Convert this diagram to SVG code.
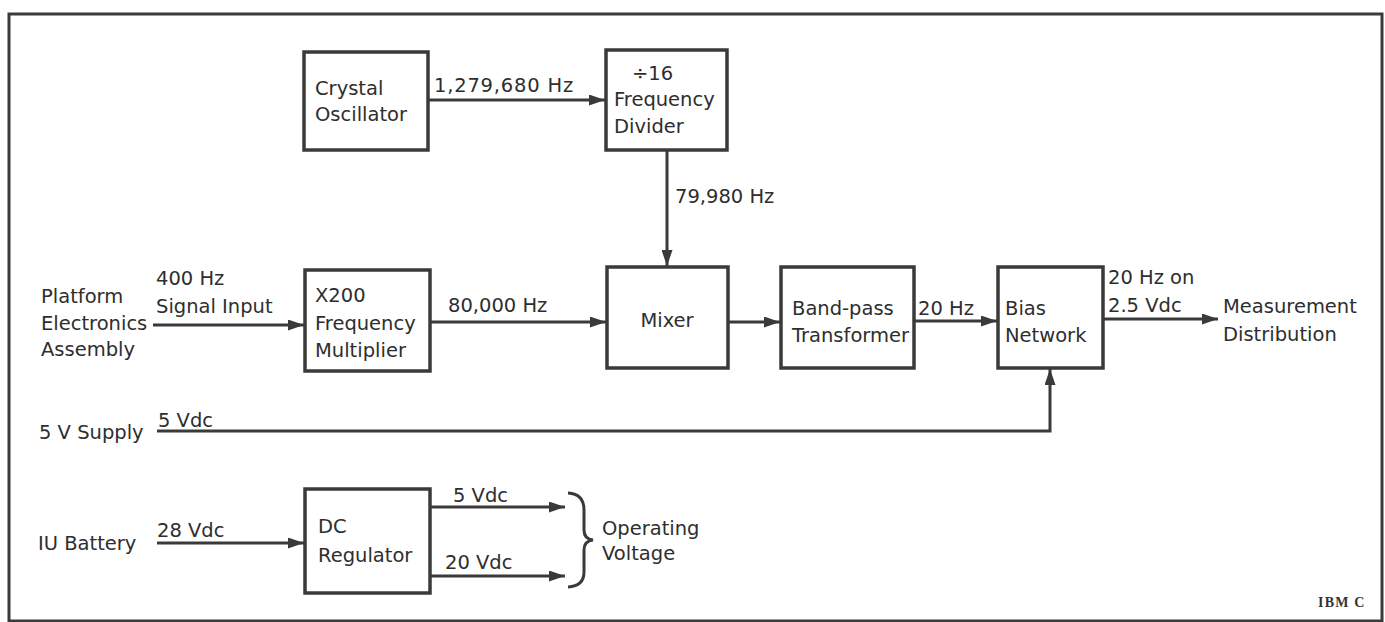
<svg xmlns="http://www.w3.org/2000/svg" width="1385" height="622" viewBox="0 0 1385 622">
<defs>
<marker id="ah" viewBox="0 0 16 11" refX="16" refY="5.5" markerWidth="16" markerHeight="11" markerUnits="userSpaceOnUse" orient="auto">
<path d="M0,0 L16,5.5 L0,11 Z" fill="#3a3a3a"/>
</marker>
<style>
.box{fill:#fff;stroke:#3a3a3a;stroke-width:3.5}
.t{font-family:"DejaVu Sans",sans-serif;font-size:19.5px;fill:#2e2e2e}
.w{fill:none;stroke:#3a3a3a;stroke-width:3}
.a{fill:none;stroke:#3a3a3a;stroke-width:3;marker-end:url(#ah)}
</style>
</defs>
<rect x="0" y="0" width="1385" height="622" fill="#fff"/>
<rect x="9" y="14" width="1373" height="607" fill="none" stroke="#3a3a3a" stroke-width="3"/>

<g id="connectors">
<path class="a" d="M428,100 H605"/>
<path class="a" d="M667,151 V266"/>
<path class="a" d="M153,325 H304"/>
<path class="a" d="M430,322 H606"/>
<path class="a" d="M728,322 H780"/>
<path class="a" d="M914,321 H997"/>
<path class="a" d="M1103,319 H1218"/>
<path class="a" d="M157,431 H1050 V369"/>
<path class="a" d="M157,543 H304"/>
<path class="a" d="M430,507 H565"/>
<path class="a" d="M430,576 H565"/>
<path class="w" d="M568,493 Q584,494 584,510 V530 Q584,539 593,540 Q584,541 584,550 V572 Q584,586 568,587" stroke-width="2.5"/>
</g>

<g id="crystal"><rect class="box" x="304" y="52" width="124" height="98"/>
<text class="t" x="315" y="95">Crystal</text><text class="t" x="315" y="121">Oscillator</text></g>
<g id="divider"><rect class="box" x="606" y="50" width="121" height="100"/>
<text class="t" x="632" y="80">÷16</text><text class="t" x="614" y="106">Frequency</text><text class="t" x="614" y="133">Divider</text></g>
<g id="multiplier"><rect class="box" x="305" y="270" width="125" height="101"/>
<text class="t" x="315" y="302">X200</text><text class="t" x="315" y="330">Frequency</text><text class="t" x="315" y="357">Multiplier</text></g>
<g id="mixer"><rect class="box" x="607" y="267" width="121" height="101"/>
<text class="t" x="667" y="327" text-anchor="middle">Mixer</text></g>
<g id="bandpass"><rect class="box" x="781" y="267" width="133" height="101"/>
<text class="t" x="792" y="315">Band-pass</text><text class="t" x="792" y="342">Transformer</text></g>
<g id="bias"><rect class="box" x="998" y="267" width="105" height="101"/>
<text class="t" x="1005" y="315">Bias</text><text class="t" x="1005" y="342">Network</text></g>
<g id="regulator"><rect class="box" x="305" y="489" width="125" height="104"/>
<text class="t" x="318" y="533">DC</text><text class="t" x="318" y="562">Regulator</text></g>

<g id="labels">
<text class="t" x="434" y="92" letter-spacing="0.8">1,279,680 Hz</text>
<text class="t" x="675" y="203">79,980 Hz</text>
<text class="t" x="156" y="285">400 Hz</text>
<text class="t" x="156" y="313">Signal Input</text>
<text class="t" x="41" y="303">Platform</text>
<text class="t" x="41" y="330">Electronics</text>
<text class="t" x="41" y="356">Assembly</text>
<text class="t" x="448" y="312">80,000 Hz</text>
<text class="t" x="918" y="315">20 Hz</text>
<text class="t" x="1108" y="284">20 Hz on</text>
<text class="t" x="1108" y="312">2.5 Vdc</text>
<text class="t" x="1223" y="313">Measurement</text>
<text class="t" x="1223" y="341">Distribution</text>
<text class="t" x="39" y="439">5 V Supply</text>
<text class="t" x="158" y="427">5 Vdc</text>
<text class="t" x="38" y="550">IU Battery</text>
<text class="t" x="157" y="537">28 Vdc</text>
<text class="t" x="453" y="502">5 Vdc</text>
<text class="t" x="445" y="569">20 Vdc</text>
<text class="t" x="602" y="535">Operating</text>
<text class="t" x="602" y="560">Voltage</text>
<text x="1318" y="607" font-family="Liberation Serif, serif" font-weight="bold" font-size="14" letter-spacing="1.2" fill="#333">IBM C</text>
</g>
</svg>
